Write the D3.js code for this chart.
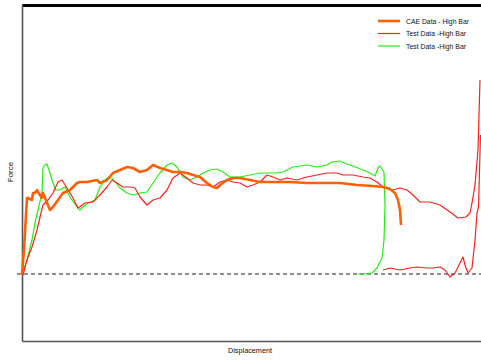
<!DOCTYPE html>
<html>
<head>
<meta charset="utf-8">
<script src="https://cdn.jsdelivr.net/npm/d3@7"></script>
<style>
  html, body { margin: 0; padding: 0; background: #fff; }
  svg { display: block; }
  .lbl { font-family: "Liberation Sans Narrow", "Liberation Sans", Arial, sans-serif; fill: #111; }
</style>
</head>
<body>
<svg id="chart" width="481" height="360"></svg>
<script>
// Displacement in mm, force in kN
const cae = [
  [0,0],[2,1.2],[5,3.8],[6,3.8],[10,3.7],[11,4.05],[13,4.05],[15,4.2],[16,4.1],[20,3.8],
  [21,4.05],[23,3.8],[28,3.2],[31,3.35],[36,3.7],[41,4.05],[48,4.2],[55,4.55],[58,4.6],
  [65,4.6],[75,4.7],[78,4.55],[85,4.7],[91,5.05],[98,5.2],[105,5.35],[111,5.3],[118,5.1],
  [125,5.2],[131,5.45],[138,5.3],[145,5.2],[151,5.1],[158,5.1],[165,5.05],[171,4.95],
  [178,4.85],[185,4.55],[191,4.35],[195,4.3],[198,4.45],[205,4.7],[211,4.8],[218,4.8],
  [228,4.7],[238,4.6],[251,4.6],[268,4.6],[285,4.55],[301,4.55],[318,4.55],[335,4.45],
  [351,4.4],[361,4.35],[368,4.25],[373,4.05],[376,3.7],[378,3.2],[379,2.45]
];

const testRed = [
  [0,0],[1,-0.05],[5,0.7],[10,1.35],[15,2.2],[18,2.85],[21,3.45],[26,3.7],[31,4.05],
  [36,4.6],[40,4.7],[45,4.3],[51,3.8],[56,3.3],[63,3.55],[71,3.6],[78,3.95],[85,4.35],
  [90,4.7],[95,4.55],[101,4.35],[108,4.35],[113,4.3],[118,3.85],[125,3.45],[131,3.7],
  [138,3.8],[145,4.2],[151,4.8],[158,5.05],[165,4.8],[171,4.55],[178,4.45],[185,4.45],
  [191,4.35],[198,4.6],[205,4.7],[211,4.6],[218,4.55],[225,4.35],[231,4.45],[238,4.6],
  [245,4.95],[251,4.85],[258,4.7],[265,4.8],[275,4.7],[285,4.85],[295,4.95],[305,5.05],
  [315,5.05],[321,4.95],[331,4.95],[341,4.85],[348,4.8],[355,4.6],[361,4.35],[371,4.2],
  [378,4.3],[385,4.2],[391,3.95],[398,3.6],[408,3.6],[418,3.45],[428,3.1],[436,2.8],
  [444,2.85],[448,3.05],[450,3.55],[453,4.45],[456,6.2],[458,9.7]
];

const testRedReturn = [
  [361,0.2],[368,0.3],[378,0.2],[388,0.3],[395,0.35],[405,0.3],[411,0.3],[418,0.35],
  [423,0.2],[428,-0.15],[433,0.05],[438,0.55],[441,0.85],[443,0.45],[446,0.05],[450,0.3],
  [453,1.7],[455,3.05],[456.5,3.35],[458.5,6.95]
];

const testGreen = [
  [0,0],[5,0.7],[10,1.7],[13,2.55],[16,3.2],[20,4.05],[21,5.3],[23,5.45],[25,5.5],
  [28,5.05],[31,4.55],[34,4.2],[38,4.2],[43,4.35],[48,3.85],[55,3.35],[58,3.2],[61,3.35],
  [66,3.55],[73,3.7],[78,4.35],[85,4.8],[90,4.8],[94,4.55],[98,4.3],[105,4.05],[111,3.95],
  [118,4.05],[125,4.1],[131,4.55],[138,5.05],[145,5.45],[150,5.55],[155,5.35],[161,4.85],
  [168,4.7],[175,4.85],[181,5.05],[188,5.2],[195,5.25],[201,5.1],[208,4.85],[218,4.85],
  [228,4.95],[238,5.05],[248,5.05],[255,5.05],[261,5.1],[271,5.35],[285,5.45],[295,5.35],
  [305,5.45],[310,5.6],[318,5.65],[325,5.5],[331,5.4],[341,5.2],[348,5.05],[353,4.9],
  [356,5.3],[358,5.4],[362,5.1],[363,3.35],[362,1.7],[360,0.8],[355,0.3],[350,0.05],[336,0]
];

const legendLabels = ["CAE Data - High Bar", "Test Data -High Bar", "Test Data -High Bar"];
const legendColors = ["#ff6000", "#ff2020", "#22ee11"];
const xTitle = "Displacement";
const yTitle = "Force";

const svg = d3.select("#chart");
const x = d3.scaleLinear().domain([0, 459]).range([22, 481]);
const y = d3.scaleLinear().domain([-3.35, 13.5]).range([341, 4]);

// frame: top bar, left and bottom axes without ticks
svg.append("g").attr("transform", `translate(0,${y(13.5) + 1})`)
  .call(d3.axisTop(x).ticks(0).tickSizeOuter(0))
  .call(g => g.select(".domain").attr("stroke", "#000").attr("stroke-width", 3));
svg.append("g").attr("transform", `translate(${x(0)},0)`)
  .call(d3.axisLeft(y).ticks(0).tickSizeOuter(0))
  .call(g => g.select(".domain").attr("stroke", "#555").attr("stroke-width", 1.6));
svg.append("g").attr("transform", `translate(0,${y(-3.35)})`)
  .call(d3.axisBottom(x).ticks(0).tickSizeOuter(0))
  .call(g => g.select(".domain").attr("stroke", "#555").attr("stroke-width", 1.6));

// zero reference line
svg.append("line")
  .attr("x1", x(0) - 5).attr("x2", x(459))
  .attr("y1", y(0)).attr("y2", y(0))
  .attr("stroke", "#222").attr("stroke-width", 1.2)
  .attr("stroke-dasharray", "4,3");

const line = d3.line().x(d => x(d[0])).y(d => y(d[1]));

const series = [
  { data: testGreen, color: legendColors[2], w: 1.2 },
  { data: testRed, color: legendColors[1], w: 1.2 },
  { data: testRedReturn, color: legendColors[1], w: 1.2 },
  { data: cae, color: legendColors[0], w: 2.6 }
];
svg.append("g").selectAll("path").data(series).join("path")
  .attr("d", s => line(s.data))
  .attr("fill", "none")
  .attr("stroke", s => s.color)
  .attr("stroke-width", s => s.w)
  .attr("stroke-linejoin", "round");

// legend
const lg = svg.append("g");
const lgWidths = [2.6, 1.2, 1.2];
const lgText = [63, 60, 60];
legendLabels.forEach((t, i) => {
  const yy = 21 + i * 12.5;
  lg.append("line").attr("x1", 378).attr("x2", 400).attr("y1", yy).attr("y2", yy)
    .attr("stroke", legendColors[i]).attr("stroke-width", lgWidths[i]);
  lg.append("text").attr("class", "lbl").attr("x", 406).attr("y", yy + 2.6)
    .attr("font-size", 7.5).attr("textLength", lgText[i]).attr("lengthAdjust", "spacingAndGlyphs")
    .text(t);
});

// axis titles
svg.append("text").attr("class", "lbl")
  .attr("x", 250).attr("y", 353).attr("text-anchor", "middle")
  .attr("font-size", 7.5).attr("textLength", 44).attr("lengthAdjust", "spacingAndGlyphs")
  .text(xTitle);
svg.append("text").attr("class", "lbl")
  .attr("transform", "translate(13,172) rotate(-90)").attr("text-anchor", "middle")
  .attr("font-size", 8).text(yTitle);
</script>
</body>
</html>
